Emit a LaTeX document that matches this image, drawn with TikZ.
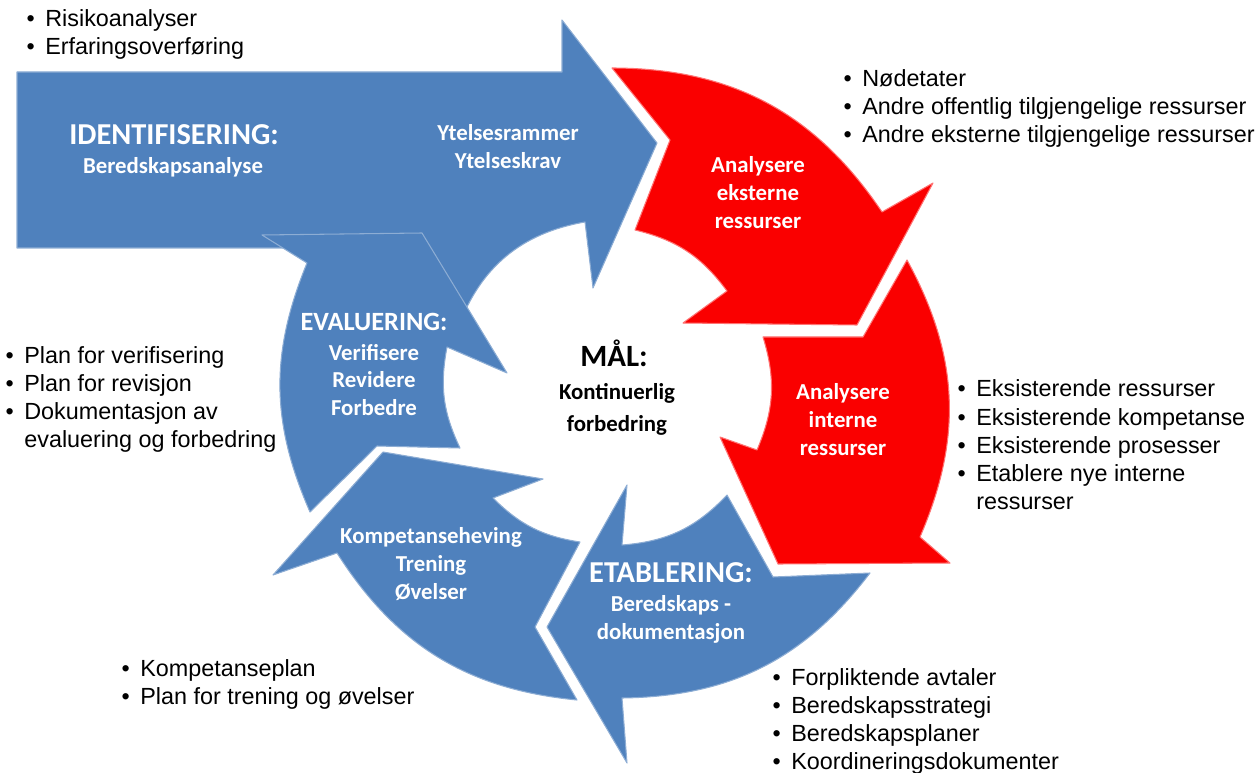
\documentclass[tikz,border=0pt]{standalone}
\usepackage{fontspec}
\setmainfont{Liberation Sans}
\newfontfamily\calfont{Carlito}
\usetikzlibrary{positioning}

\definecolor{cycleblue}{HTML}{4F81BD}
\definecolor{cyclered}{HTML}{FA0000}
\newcommand{\bulmark}{\llap{\textbullet\hspace{6pt}}}

\tikzset{
  bluearrow/.style={fill=cycleblue, draw=cycleblue!65!white, line width=0.6pt, line join=round},
  redarrow/.style={fill=cyclered, draw=red!55!white, line width=0.6pt, line join=round},
  headtext/.style={text=white, font=\calfont\bfseries\fontsize{17.3}{20}\selectfont},
  lbl/.style={text=white, align=center, font=\calfont\bfseries\fontsize{13}{15.9}\selectfont},
  listitem/.style={anchor=base west, inner sep=0pt, font=\fontsize{13.3}{15.9}\selectfont}
}

\begin{document}
\begin{tikzpicture}[x=0.02cm, y=-0.02cm]
\useasboundingbox (0,0) rectangle (1257,773);

% identifisering, the long arrow on top
\draw[bluearrow] (17,72) -- (562,72) -- (562,20) -- (657,143) -- (593,288) -- (585,222)
  to[bend right=30] (458,328) -- (330,248) -- (17,248) -- cycle;
% red part of the cycle
\draw[redarrow] (612,68) to[bend left=28] (882,212) -- (933,183) -- (857,325) -- (683,323)
  -- (727,291) to[bend right=20] (635,230) -- (670,140) -- cycle;
\draw[redarrow] (763,337) -- (863,337) -- (907,260) to[bend left=26] (920,537) -- (950,563)
  -- (778,564) -- (720,437) -- (757,450) to[bend right=20] (763,337) -- cycle;
% blue part of the cycle
\draw[bluearrow] (727,495) -- (773,577) -- (870,573) to[bend left=26] (622,698) -- (627,763)
  -- (547,627) -- (627,485) -- (622,545) to[bend right=21] (727,495) -- cycle;
\draw[bluearrow] (383,452) -- (543,479) -- (493,498) to[bend right=18] (580,542) -- (535,627)
  -- (577,700) to[bend left=26] (337,553) -- (273,575) -- cycle;
\draw[bluearrow] (422,233) -- (507,373) -- (447,347) to[bend right=18] (460,448) -- (377,446)
  -- (310,512) to[bend left=23] (307,263) -- (262,235) -- cycle;

% texts in the arrows
\node[headtext] (ident) at (174,135) {IDENTIFISERING:};
\node[lbl] (identsub) at (173,167) {Beredskapsanalyse};
\node[lbl] (ytelse) at (508,147) {Ytelsesrammer\\Ytelseskrav};
\node[lbl] (ekstern) at (758,193) {Analysere\\eksterne\\ressurser};
\node[lbl] (intern) at (843,420) {Analysere\\interne\\ressurser};
\node[headtext] (etabl) at (671,573) {ETABLERING:};
\node[lbl] (etablsub) at (671,619) {Beredskaps -\\dokumentasjon};
\node[lbl] (kompet) at (431,564) {Kompetanseheving\\Trening\\Øvelser};
\node[headtext, font=\calfont\bfseries\fontsize{15}{18}\selectfont] (evalu) at (374,322) {EVALUERING:};
\node[lbl] (evalusub) at (374,380) {Verifisere\\Revidere\\Forbedre};
\node[font=\calfont\bfseries\fontsize{17.6}{20}\selectfont] (maal) at (614,353) {MÅL:};
\node[align=center, font=\calfont\bfseries\fontsize{13}{18.2}\selectfont] (maalsub) at (617,409)
  {Kontinuerlig\\forbedring};

% lists beside the cycle
\foreach \t [count=\i from 0] in {\bulmark Risikoanalyser, \bulmark Erfaringsoverføring}
  \node[listitem] (risk\i) at (45,27+28*\i) {\t};
\foreach \t [count=\i from 0] in {\bulmark Nødetater, \bulmark Andre offentlig tilgjengelige ressurser,
    \bulmark Andre eksterne tilgjengelige ressurser}
  \node[listitem] (ext\i) at (862,87+28*\i) {\t};
\foreach \t [count=\i from 0] in {\bulmark Eksisterende ressurser, \bulmark Eksisterende kompetanse,
    \bulmark Eksisterende prosesser, \bulmark Etablere nye interne, ressurser}
  \node[listitem] (int\i) at (976,397+28*\i) {\t};
\foreach \t [count=\i from 0] in {\bulmark Plan for verifisering, \bulmark Plan for revisjon,
    \bulmark Dokumentasjon av, evaluering og forbedring}
  \node[listitem] (ver\i) at (24,363+28*\i) {\t};
\foreach \t [count=\i from 0] in {\bulmark Kompetanseplan, \bulmark Plan for trening og øvelser}
  \node[listitem] (komp\i) at (140,676+28*\i) {\t};
\foreach \t [count=\i from 0] in {\bulmark Forpliktende avtaler, \bulmark Beredskapsstrategi,
    \bulmark Beredskapsplaner, \bulmark Koordineringsdokumenter}
  \node[listitem] (dok\i) at (791,685+28*\i) {\t};
\end{tikzpicture}
\end{document}
